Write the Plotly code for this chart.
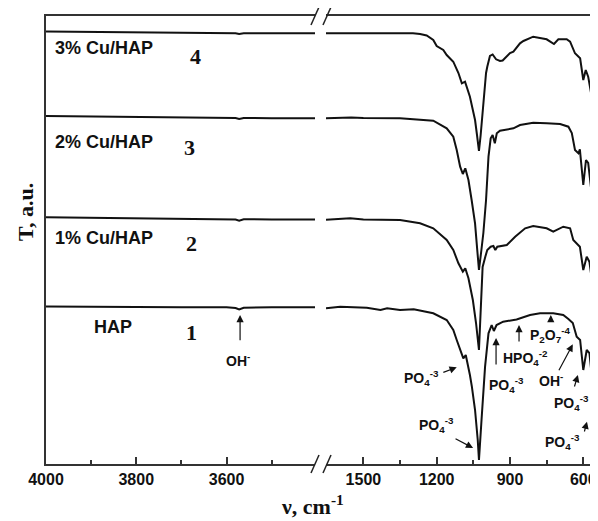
import plotly.graph_objects as go

# ---------------- data (wavenumber, T in a.u.) ----------------
# left segment (4000-3400 cm-1)
wn_left = [4000, 3950, 3900, 3800, 3700, 3600, 3580, 3572, 3562, 3500, 3404]
t1_left = [157.5, 157.3, 157.7, 157.0, 156.7, 156.7, 156.0, 154.5, 156.3, 156.7, 156.7]
t2_left = [246.7, 246.5, 246.2, 245.7, 245.2, 244.7, 244.5, 243.3, 244.7, 244.6, 244.5]
t3_left = [348.0, 347.8, 347.5, 347.0, 346.5, 346.3, 346.0, 345.0, 346.0, 345.8, 345.7]
t4_left = [432.5, 432.3, 432.0, 431.5, 431.0, 431.0, 430.8, 430.0, 430.7, 430.7, 430.7]

# right segment (1650-550 cm-1)
wn_r1 = [1653, 1595, 1486, 1430, 1403, 1350, 1294, 1214, 1159, 1132, 1118, 1104, 1091, 1081,
         1070, 1064, 1056, 1043, 1032, 1027, 1016, 1002, 988, 975, 966, 955, 928, 873, 818,
         777, 723, 682, 661, 643, 627, 613, 600, 586, 575, 559, 552]
t_r1 = [155.7, 157.3, 156.3, 154.0, 155.7, 154.0, 154.7, 150.7, 144.0, 134.0, 124.0, 114.0,
        105.7, 109.0, 97.3, 89.0, 77.3, 54.0, 24.0, 4.0, 46.0, 97.3, 130.7, 139.0, 133.0,
        139.0, 142.3, 144.5, 149.0, 150.7, 150.7, 149.0, 145.0, 141.0, 127.3, 124.0, 94.0,
        114.0, 111.0, 74.0, 46.0]

wn_r2 = [1653, 1554, 1500, 1350, 1268, 1214, 1159, 1132, 1111, 1093, 1083, 1070, 1052, 1039,
         1027, 1021, 1012, 1001, 993, 979, 968, 960, 952, 913, 879, 838, 805, 750, 723, 682,
         654, 641, 627, 614, 600, 586, 575, 561, 552]
t_r2 = [244.3, 245.7, 244.5, 244.0, 240.7, 235.7, 224.0, 214.0, 200.7, 192.3, 195.7, 185.7,
        164.0, 141.0, 114.0, 154.0, 197.0, 207.3, 214.0, 217.3, 218.0, 214.0, 217.3, 219.0,
        227.3, 235.7, 238.0, 235.7, 232.3, 237.3, 235.7, 224.0, 220.7, 217.3, 194.0, 207.3,
        202.3, 177.3, 146.0]

wn_r3 = [1653, 1550, 1500, 1400, 1350, 1214, 1159, 1132, 1118, 1104, 1093, 1083, 1070, 1057,
         1043, 1034, 1027, 1017, 1009, 998, 988, 979, 971, 962, 954, 941, 886, 859, 805, 750,
         695, 661, 647, 634, 620, 614, 600, 589, 580, 566, 556]
t_r3 = [345.7, 346.5, 346.0, 345.7, 345.7, 343.3, 335.7, 327.3, 314.0, 297.3, 290.0, 295.7,
        284.0, 264.0, 240.7, 214.0, 194.0, 214.0, 231.0, 264.0, 307.3, 325.7, 329.0, 320.7,
        330.7, 333.3, 335.7, 339.0, 341.3, 340.7, 340.0, 337.3, 331.0, 314.0, 310.7, 314.7,
        279.0, 304.0, 301.0, 271.0, 237.3]

wn_r4 = [1653, 1500, 1400, 1297, 1268, 1241, 1214, 1200, 1173, 1159, 1132, 1111, 1097, 1084,
         1064, 1043, 1035, 1027, 1020, 1012, 998, 993, 982, 971, 957, 941, 930, 900, 886, 859,
         845, 805, 750, 720, 709, 702, 668, 654, 634, 613, 600, 590, 580, 561, 552]
t_r4 = [430.7, 431.0, 431.0, 430.7, 430.0, 428.5, 424.0, 418.0, 414.0, 409.0, 402.3, 391.0,
        380.7, 382.3, 367.3, 344.0, 329.0, 313.0, 329.0, 354.0, 391.0, 397.3, 408.0, 409.5,
        404.7, 403.0, 403.5, 411.0, 412.3, 420.7, 423.0, 427.3, 424.7, 420.0, 423.3, 424.7,
        424.7, 422.3, 410.7, 405.7, 384.0, 394.0, 387.3, 361.0, 337.0]

left_series = [t1_left, t2_left, t3_left, t4_left]
right_series = [(wn_r1, t_r1), (wn_r2, t_r2), (wn_r3, t_r3), (wn_r4, t_r4)]

sample_names = ["HAP", "1% Cu/HAP", "2% Cu/HAP", "3% Cu/HAP"]
curve_numbers = ["1", "2", "3", "4"]

left_ticks = [4000, 3800, 3600]
right_ticks = [1500, 1200, 900, 600]

# ---------------- figure ----------------
fig = go.Figure()
LINE = dict(color="#111111", width=2)

for ts in left_series:
    fig.add_trace(go.Scatter(x=wn_left, y=ts, mode="lines", line=LINE,
                             xaxis="x", yaxis="y", showlegend=False, hoverinfo="skip"))
for wn, ts in right_series:
    fig.add_trace(go.Scatter(x=wn, y=ts, mode="lines", line=LINE,
                             xaxis="x2", yaxis="y2", showlegend=False, hoverinfo="skip"))

TICKFONT = dict(family="Liberation Sans, Arial, sans-serif", size=16, color="#111111")
SERIF = "Liberation Serif, Times New Roman, serif"
SANS = "Liberation Sans, Arial, sans-serif"

axis_common = dict(showline=True, linecolor="#333333", linewidth=1.5, mirror=True,
                   showgrid=False, zeroline=False, ticks="inside", ticklen=7,
                   tickcolor="#333333", tickwidth=1.5, tickfont=TICKFONT)

# the page body adds an 8px offset, so the figure is 8px smaller on each axis
fig.update_layout(
    width=590, height=513,
    margin=dict(l=38, r=2, t=8, b=57),
    paper_bgcolor="white", plot_bgcolor="white",
    xaxis=dict(domain=[0, 269 / 550], range=[4000, 3404], anchor="y",
               tickvals=left_ticks, ticktext=["<b>%d</b>" % v for v in left_ticks],
               minor=dict(tickvals=[3900, 3700, 3500], ticks="inside", ticklen=4,
                          tickcolor="#333333", tickwidth=1.5),
               **axis_common),
    xaxis2=dict(domain=[280 / 550, 1], range=[1653, 548], anchor="y2",
                tickvals=right_ticks, ticktext=["<b>%d</b>" % v for v in right_ticks],
                minor=dict(tickvals=[1350, 1050, 750], ticks="inside", ticklen=4,
                           tickcolor="#333333", tickwidth=1.5),
                **axis_common),
    yaxis=dict(range=[0, 448], anchor="x", side="left", showline=True,
               linecolor="#333333", linewidth=1.5, showticklabels=False, ticks="",
               showgrid=False, zeroline=False),
    yaxis2=dict(range=[0, 448], anchor="x2", side="right", showline=True,
                linecolor="#333333", linewidth=1.5, showticklabels=False, ticks="",
                showgrid=False, zeroline=False),
)

ann = []
# sample labels and curve numbers
label_y = [137.3, 225.7, 322.3, 416.0]
label_x = [3899, 3984.5, 3984.5, 3984.5]
num_x = [3677, 3677, 3683, 3668]
num_y = [131.3, 221.0, 317.0, 408.0]
for name, lx, ly in zip(sample_names, label_x, label_y):
    ann.append(dict(x=lx, y=ly, xref="x", yref="y", text="<b>%s</b>" % name,
                    showarrow=False, xanchor="left", yanchor="middle",
                    font=dict(family=SANS, size=18, color="#111111")))
for n, nx, ny in zip(curve_numbers, num_x, num_y):
    ann.append(dict(x=nx, y=ny, xref="x", yref="y", text="<b>%s</b>" % n,
                    showarrow=False, xanchor="center", yanchor="middle",
                    font=dict(family=SERIF, size=22, color="#111111")))

# band assignment labels: (text, xref, yref, x, y, tail_x, tail_y, head_x, head_y)
PO4 = "PO<sub>4</sub><sup>-3</sup>"
bands = [
    ("OH<sup>-</sup>", "x", "y", 3575, 104, 3570, 122.3, 3570, 149),
    (PO4, "x2", "y2", 1264, 86, 1179, 91, 1118, 96.7),
    (PO4, "x2", "y2", 1200, 39, 1129, 26, 1051, 16),
    (PO4, "x2", "y2", 916, 79, 957, 98, 957, 126),
    ("HPO<sub>4</sub><sup>-2</sup>", "x2", "y2", 838, 106, 863, 121, 863, 139),
    ("P<sub>2</sub>O<sub>7</sub><sup>-4</sup>", "x2", "y2", 736, 129, 733, 141, 733, 149),
    ("OH<sup>-</sup>", "x2", "y2", 732, 84, 703, 92.3, 643, 119.7),
    (PO4, "x2", "y2", 650, 61.3, 638, 76, 622, 89),
    (PO4, "x2", "y2", 687, 22.3, 597, 31, 585, 42.3),
]
for txt, xr, yr, tx, ty, ax_, ay_, hx, hy in bands:
    ann.append(dict(x=tx, y=ty, xref=xr, yref=yr, text="<b>%s</b>" % txt,
                    showarrow=False, xanchor="center", yanchor="middle",
                    font=dict(family=SANS, size=14, color="#111111")))
    ann.append(dict(x=hx, y=hy, xref=xr, yref=yr, ax=ax_, ay=ay_, axref=xr, ayref=yr,
                    text="", showarrow=True, arrowhead=2, arrowsize=1.2, arrowwidth=1.2,
                    arrowcolor="#111111", standoff=0))

# axis titles (positions relative to the plot area)
ann.append(dict(x=(312 - 46) / 550, y=(464 - 505) / 448, xref="paper", yref="paper",
                text="<b>\u03bd, cm<sup>-1</sup></b>", showarrow=False,
                xanchor="center", yanchor="middle",
                font=dict(family=SERIF, size=22, color="#111111")))
ann.append(dict(x=(25 - 46) / 550, y=(464 - 212) / 448, xref="paper", yref="paper",
                text="<b>T, a.u.</b>", showarrow=False, textangle=-90,
                xanchor="center", yanchor="middle",
                font=dict(family=SERIF, size=22, color="#111111")))
fig.update_layout(annotations=ann)

# axis-break marks "//" at top and bottom
def px_x(p):
    return (p - 46) / 550

def px_y(p):
    return (464 - p) / 448

shapes = []
for base in (16, 464):
    shapes.append(dict(type="line", xref="paper", yref="paper",
                       x0=px_x(315), x1=px_x(326), y0=px_y(base), y1=px_y(base),
                       line=dict(color="white", width=3)))
    for x0 in (311, 323):
        shapes.append(dict(type="line", xref="paper", yref="paper",
                           x0=px_x(x0), y0=px_y(base + 9), x1=px_x(x0 + 8), y1=px_y(base - 9),
                           line=dict(color="#222222", width=1.5)))
fig.update_layout(shapes=shapes)

fig.write_html("out.html")
